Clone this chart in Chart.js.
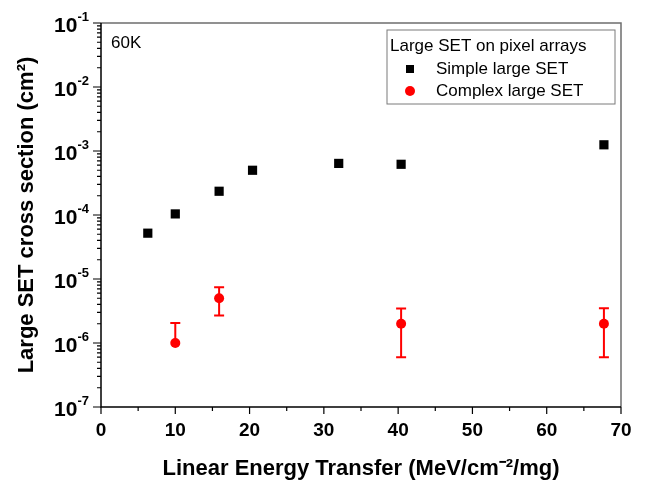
<!DOCTYPE html>
<html>
<head>
<meta charset="utf-8">
<title>Large SET cross section vs LET</title>
<script src="https://cdn.jsdelivr.net/npm/chart.js@4.4.1/dist/chart.umd.min.js"></script>
<style>
  html, body { margin: 0; padding: 0; background: #fff; }
  #wrap { width: 648px; height: 484px; }
</style>
</head>
<body>
<div id="wrap"><canvas id="chart" width="648" height="484"></canvas></div>
<script>
// values (LET in MeV/cm^-2/mg, cross section in cm^2)
const simpleLet = [6.3, 10, 15.9, 20.4, 32, 40.4, 67.7];
const simpleSigma = [5.2e-5, 1.04e-4, 2.35e-4, 5.0e-4, 6.4e-4, 6.2e-4, 1.25e-3];

const complexLet = [10, 15.9, 40.4, 67.7];
const complexSigma = [1.0e-6, 5.0e-6, 2.0e-6, 2.0e-6];
const complexLow = [1.0e-6, 2.7e-6, 6.0e-7, 6.0e-7];
const complexHigh = [2.05e-6, 7.4e-6, 3.45e-6, 3.5e-6];

const xTickValues = [0, 10, 20, 30, 40, 50, 60, 70];
const yDecades = [-7, -6, -5, -4, -3, -2, -1];

const legendTitle = 'Large SET on pixel arrays';
const tempLabel = '60K';

const FONT = 'Arial, "Liberation Sans", sans-serif';

// error bars, frame, ticks, y labels with superscripts, in-plot legend
const decor = {
  id: 'decor',
  beforeDatasetsDraw(chart) {
    const { ctx, scales: { x, y } } = chart;
    ctx.save();
    ctx.strokeStyle = '#ff0000';
    ctx.lineWidth = 2;
    complexLet.forEach((v, i) => {
      const px = x.getPixelForValue(v);
      const top = y.getPixelForValue(complexHigh[i]);
      const bot = y.getPixelForValue(complexLow[i]);
      ctx.beginPath();
      ctx.moveTo(px, top); ctx.lineTo(px, bot);
      ctx.moveTo(px - 5, top); ctx.lineTo(px + 5, top);
      if (complexLow[i] < complexSigma[i]) {
        ctx.moveTo(px - 5, bot); ctx.lineTo(px + 5, bot);
      }
      ctx.stroke();
    });
    ctx.restore();
  },
  afterDraw(chart) {
    const { ctx, chartArea: a, scales: { x, y } } = chart;
    ctx.save();

    // frame: top/right grey, left/bottom black
    ctx.lineWidth = 1.5;
    ctx.strokeStyle = '#6e6e6e';
    ctx.beginPath();
    ctx.moveTo(a.left, a.top); ctx.lineTo(a.right, a.top); ctx.lineTo(a.right, a.bottom);
    ctx.stroke();
    ctx.strokeStyle = '#000';
    ctx.beginPath();
    ctx.moveTo(a.left, a.top); ctx.lineTo(a.left, a.bottom); ctx.lineTo(a.right, a.bottom);
    ctx.stroke();

    // x ticks, major every 10, minor every 5
    ctx.lineWidth = 1.2;
    ctx.beginPath();
    for (let v = x.min; v <= x.max; v += 5) {
      const px = x.getPixelForValue(v);
      const len = v % 10 === 0 ? 7 : 4;
      ctx.moveTo(px, a.bottom); ctx.lineTo(px, a.bottom + len);
    }
    // y ticks, decades + 2..9
    yDecades.forEach(e => {
      for (let m = 1; m <= 9; m++) {
        if (e === yDecades[yDecades.length - 1] && m > 1) break;
        const py = y.getPixelForValue(m * Math.pow(10, e));
        const len = m === 1 ? 8 : 4;
        ctx.moveTo(a.left - len, py); ctx.lineTo(a.left, py);
      }
    });
    ctx.stroke();

    // y labels 10^n
    ctx.fillStyle = '#000';
    ctx.textBaseline = 'alphabetic';
    yDecades.forEach(e => {
      const py = y.getPixelForValue(Math.pow(10, e));
      const exp = '-' + Math.abs(e);
      ctx.font = 'bold 13px ' + FONT;
      const we = ctx.measureText(exp).width;
      ctx.font = 'bold 21px ' + FONT;
      const wb = ctx.measureText('10').width;
      const right = a.left - 12;
      ctx.textAlign = 'left';
      ctx.fillText('10', right - we - wb, py + 8.5);
      ctx.font = 'bold 13px ' + FONT;
      ctx.fillText(exp, right - we, py - 2);
    });

    // temperature tag
    ctx.font = '17px ' + FONT;
    ctx.textAlign = 'left';
    ctx.fillText(tempLabel, a.left + 10, a.top + 25);

    // legend box
    const bx = a.right - 234, by = a.top + 7, bw = 228, bh = 74;
    ctx.lineWidth = 1;
    ctx.strokeStyle = '#7a7a7a';
    ctx.strokeRect(bx, by, bw, bh);
    ctx.font = '17px ' + FONT;
    ctx.textBaseline = 'middle';
    ctx.fillText(legendTitle, bx + 3, by + 16);
    chart.data.datasets.forEach((ds, i) => {
      const cy = by + 39 + i * 22;
      ctx.fillStyle = ds.backgroundColor;
      ctx.beginPath();
      if (ds.pointStyle === 'rect') ctx.rect(bx + 19, cy - 4, 8, 8);
      else ctx.arc(bx + 23, cy, 5, 0, Math.PI * 2);
      ctx.fill();
      ctx.fillStyle = '#000';
      ctx.fillText(ds.label, bx + 49, cy);
    });
    ctx.restore();
  }
};

new Chart(document.getElementById('chart'), {
  type: 'scatter',
  data: {
    datasets: [
      {
        label: 'Simple large SET',
        data: simpleLet.map((v, i) => ({ x: v, y: simpleSigma[i] })),
        pointStyle: 'rect',
        pointRadius: 6.5,
        pointHoverRadius: 6.5,
        backgroundColor: '#000000',
        borderColor: '#000000',
        borderWidth: 0
      },
      {
        label: 'Complex large SET',
        data: complexLet.map((v, i) => ({ x: v, y: complexSigma[i] })),
        pointStyle: 'circle',
        pointRadius: 5,
        pointHoverRadius: 5,
        backgroundColor: '#ff0000',
        borderColor: '#ff0000',
        borderWidth: 0
      }
    ]
  },
  options: {
    responsive: false,
    animation: false,
    devicePixelRatio: 1,
    layout: { padding: { left: 0, right: 27, top: 23, bottom: 0 } },
    plugins: {
      legend: { display: false },
      tooltip: { enabled: false }
    },
    scales: {
      x: {
        type: 'linear',
        min: 0,
        max: 70,
        afterBuildTicks: s => { s.ticks = xTickValues.map(v => ({ value: v })); },
        afterFit: s => { s.height = 77; },
        grid: { display: false, drawTicks: false },
        border: { display: false },
        ticks: {
          color: '#000',
          padding: 12,
          maxRotation: 0,
          font: { family: FONT, size: 19, weight: 'bold' }
        },
        title: {
          display: true,
          text: 'Linear Energy Transfer (MeV/cm⁻²/mg)',
          color: '#000',
          padding: { top: 0, bottom: 2 },
          font: { family: FONT, size: 22, weight: 'bold' }
        }
      },
      y: {
        type: 'logarithmic',
        min: 1e-7,
        max: 1e-1,
        afterFit: s => { s.width = 101; },
        grid: { display: false, drawTicks: false },
        border: { display: false },
        ticks: { display: false },
        title: {
          display: true,
          text: 'Large SET cross section (cm²)',
          color: '#000',
          padding: { top: 14, bottom: 0 },
          font: { family: FONT, size: 22, weight: 'bold' }
        }
      }
    }
  },
  plugins: [decor]
});
</script>
</body>
</html>
